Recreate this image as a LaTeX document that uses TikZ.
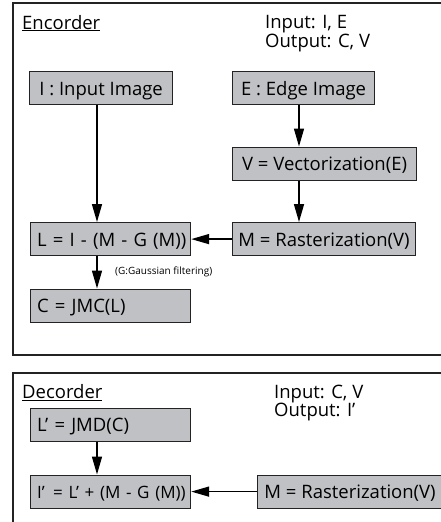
\documentclass[tikz,border=0pt]{standalone}
\usepackage{fontspec}
\setmainfont{Open Sans}
\usetikzlibrary{arrows.meta}
\definecolor{boxgray}{RGB}{192,193,196}
\definecolor{framegray}{RGB}{35,35,35}
\begin{document}
\begin{tikzpicture}[x=1pt,y=-1pt,
  bbase/.style={draw=framegray, fill=boxgray, line width=1.2pt, minimum height=33pt,
    inner ysep=0pt, text height=14pt, text depth=0pt, anchor=north west,
    font=\fontsize{18.5}{20}\selectfont},
  cbox/.style={bbase, inner xsep=0pt},
  lbox/.style={bbase, inner xsep=6.5pt, align=left},
  frame/.style={draw=framegray, line width=1.2pt},
  lbl/.style={anchor=base west, inner sep=0pt, font=\fontsize{18.5}{20}\selectfont},
  io/.style={anchor=north west, inner sep=0pt, align=left, font=\fontsize{18.5}{16.5}\selectfont},
  arr/.style={line width=1.5pt, -{Triangle[length=18pt,width=10pt]}}]
\useasboundingbox (0,0) rectangle (441,522);
% frames
\draw[frame] (445,3) -- (13,3) -- (13,355) -- (445,355);
\draw[frame] (445,373) -- (13,373) -- (13,530);
% encoder labels
\node[lbl] (enc) at (22,29) {\underline{Encorder}};
\node[io] (eio) at (265,15) {Input: I, E\\Output: C, V};
% encoder boxes
\node[cbox, minimum width=143pt] (I) at (29,71) {I : Input Image};
\node[cbox, minimum width=142pt] (E) at (232,71) {E : Edge Image};
\node[cbox, minimum width=184pt] (V) at (232,146.5) {V = Vectorization(E)};
\node[lbox, text width=147pt] (L) at (30,222) {\mbox{L = I - (M - G (M))}};
\node[cbox, minimum width=183pt] (Me) at (232,222) {M = Rasterization(V)};
\node[lbox, text width=147pt] (C) at (30,288.5) {\mbox{C = JMC(L)}};
\node[anchor=west, inner sep=0pt, font=\fontsize{10}{12}\selectfont] (gf) at (115,271.5) {(G:Gaussian filtering)};
% encoder arrows
\draw[arr] (I.south -| 97,0) -- (L.north -| 97,0);
\draw[arr] (E.south -| 299,0) -- (V.north -| 299,0);
\draw[arr] (V.south -| 299,0) -- (Me.north -| 299,0);
\draw[arr] (Me.west) -- (L.east);
\draw[arr] (L.south -| 97,0) -- (C.north -| 97,0);
% decoder labels
\node[lbl] (dec) at (22,398.5) {\underline{Decorder}};
\node[io] (dio) at (274,384.5) {Input: C, V\\Output: I’};
% decoder boxes
\node[lbox, text width=147pt] (Lp) at (30,407.5) {\mbox{L’ = JMD(C)}};
\node[lbox, text width=147pt, font=\fontsize{17}{20}\selectfont] (Ip) at (30,474.5) {\mbox{I’\,\ = L’ + (M - G (M))}};
\node[cbox, minimum width=185pt] (Md) at (257,474.5) {M = Rasterization(V)};
% decoder arrows
\draw[arr] (Lp.south -| 97,0) -- (Ip.north -| 97,0);
\draw[arr] (Md.west) -- (Ip.east);
\end{tikzpicture}
\end{document}
